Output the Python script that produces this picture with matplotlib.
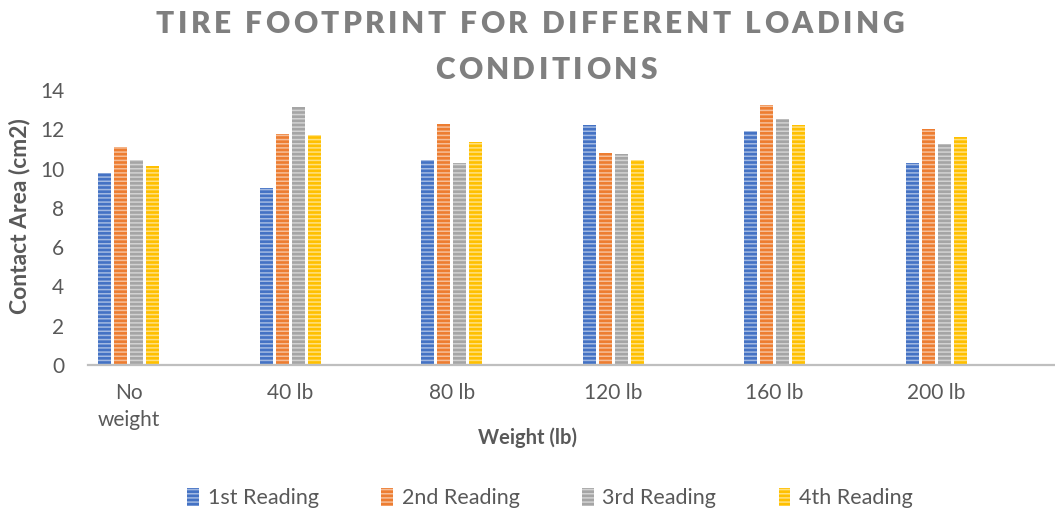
import matplotlib
matplotlib.use("Agg")
import matplotlib.pyplot as plt
from matplotlib.font_manager import FontProperties
from matplotlib.patches import Patch
from matplotlib.colors import to_rgb
import numpy as np

# Contact area readings (cm2) for each load case
categories = ["No\nweight", "40 lb", "80 lb", "120 lb", "160 lb", "200 lb"]
series_names = ["1st Reading", "2nd Reading", "3rd Reading", "4th Reading"]
reading_1 = [9.76, 9.01, 10.44, 12.22, 11.91, 10.28]
reading_2 = [11.11, 11.75, 12.27, 10.79, 13.24, 12.03]
reading_3 = [10.42, 13.15, 10.28, 10.74, 12.53, 11.27]
reading_4 = [10.13, 11.71, 11.34, 10.45, 12.22, 11.59]
readings = [reading_1, reading_2, reading_3, reading_4]

colors = ["#4472C4", "#ED7D31", "#A5A5A5", "#FFC000"]
text_col = "#595959"
FONT = "Lato"


def tint(c, amt=0.5):
    r, g, b = to_rgb(c)
    return (r + (1 - r) * amt, g + (1 - g) * amt, b + (1 - b) * amt)


plt.rcParams["hatch.linewidth"] = 1.1
plt.rcParams["font.family"] = FONT

W, H = 1055, 513
fig = plt.figure(figsize=(W / 100, H / 100), dpi=100)
ax = fig.add_axes([88 / W, 148 / H, (W - 88) / W, 275 / H])

x = np.arange(len(categories))
pitch, bw = 0.099, 0.082
for i, (vals, col) in enumerate(zip(readings, colors)):
    ax.bar(x + (i - 1.5) * pitch, vals, width=bw, color=col,
           edgecolor=tint(col, 0.5), linewidth=0, hatch="----", zorder=2)

ax.set_xlim(-0.252, 5.736)
ax.set_ylim(0, 14)
ax.set_yticks(range(0, 15, 2))
ax.set_xticks(x)
ax.set_xticklabels(categories, linespacing=1.45)
ax.tick_params(axis="both", length=0, labelsize=15, labelcolor=text_col)
ax.tick_params(axis="y", pad=17)
ax.tick_params(axis="x", pad=13)
for s in ["top", "right", "left"]:
    ax.spines[s].set_visible(False)
ax.spines["bottom"].set_color("#BFBFBF")
ax.spines["bottom"].set_linewidth(1.6)

fig.text(20 / W, 1 - 216 / H, "Contact Area (cm2)", rotation=90, ha="center",
         va="center", fontsize=16.5, fontweight="bold", color=text_col)
fig.text(527 / W, 1 - 438 / H, "Weight (lb)", ha="center", va="center",
         fontsize=14.5, fontweight="bold", color=text_col)


# title with extra letter spacing, placed one character at a time
def spaced_text(s, xc, yc, size, track):
    fp = FontProperties(family=FONT, weight="heavy", size=size)
    r = fig.canvas.get_renderer()
    bar = r.get_text_width_height_descent("|", fp, ismath=False)[0]
    adv = [r.get_text_width_height_descent(s[:k] + "|", fp, ismath=False)[0] - bar
           for k in range(len(s) + 1)]
    total = adv[-1] + track * (len(s) - 1)
    x0 = xc - total / 2
    for k, ch in enumerate(s):
        if ch == " ":
            continue
        fig.text((x0 + adv[k] + track * k) / W, 1 - yc / H, ch, fontproperties=fp,
                 color="#7F7F7F", ha="left", va="center")


spaced_text("TIRE FOOTPRINT FOR DIFFERENT LOADING", 530, 24, 21.5, 3.5)
spaced_text("CONDITIONS", 546, 70, 21.5, 3.5)

handles = [Patch(facecolor=c, edgecolor=tint(c, 0.5), linewidth=0, hatch="----")
           for c in colors]
fig.legend(handles, series_names, loc="center", bbox_to_anchor=(550 / W, 1 - 498 / H),
           ncol=4, frameon=False, fontsize=15.5, labelcolor=text_col,
           handlelength=0.55, handleheight=0.9, handletextpad=0.4, columnspacing=2.9)

fig.savefig("out.png", dpi=100)
